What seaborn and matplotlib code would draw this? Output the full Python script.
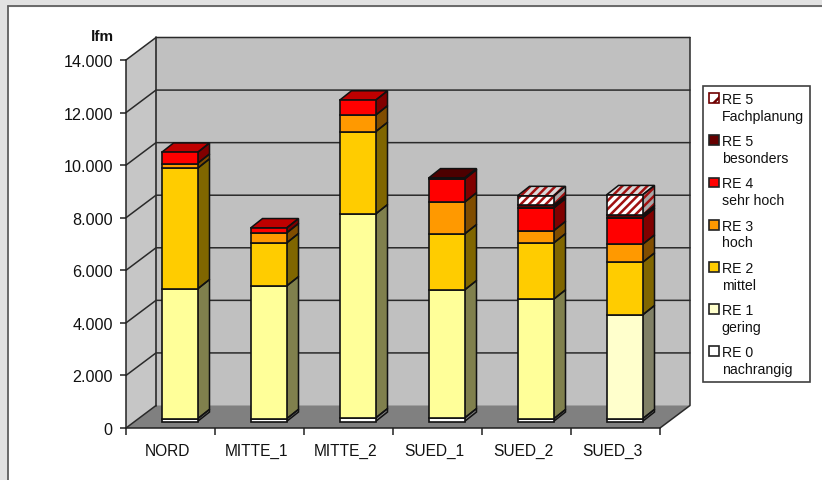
import numpy as np
import pandas as pd
import seaborn as sns
import matplotlib
matplotlib.use("Agg")
import matplotlib.pyplot as plt
from matplotlib.colors import to_rgb
from matplotlib.legend_handler import HandlerPatch
from matplotlib.patches import Patch, Rectangle
from matplotlib.transforms import Affine2D, ScaledTranslation

# Data (lfm per region and class)
regions = ["NORD", "MITTE_1", "MITTE_2", "SUED_1", "SUED_2", "SUED_3"]
re0 = [100, 100, 130, 130, 95, 100]
re1 = [4940, 5050, 7760, 4870, 4550, 3950]
re2 = [4590, 1640, 3130, 2130, 2140, 2000]
re3 = [185, 380, 630, 1210, 465, 685]
re4 = [420, 190, 570, 880, 865, 1010]
re5_bes = [0, 0, 0, 40, 115, 105]
re5_fach = [0, 0, 0, 0, 355, 770]

series_names = ["RE 0\nnachrangig", "RE 1\ngering", "RE 2\nmittel", "RE 3\nhoch",
                "RE 4\nsehr hoch", "RE 5\nbesonders", "RE 5\nFachplanung"]
series_values = [re0, re1, re2, re3, re4, re5_bes, re5_fach]
series_colors = ["#FFFFFF", "#FFFFCC", "#FFCC00", "#FF9900", "#FF0000", "#660000", "#FFFFFF"]
re1_point_colors = ["#FFFF99"] * 5 + ["#FFFFCC"]

y_ticks = [0, 2000, 4000, 6000, 8000, 10000, 12000, 14000]
y_labels = ["0", "2.000", "4.000", "6.000", "8.000", "10.000", "12.000", "14.000"]

# Pixel scales of the front plane
PX_X = 89.0
PX_Y = 368 / 14000
WALL_DX, WALL_DY = 30 / PX_X, 22.5 / PX_Y
BAR_DX, BAR_DY = 12 / PX_X, 9.5 / PX_Y
BAR_W = 36 / PX_X
HATCH_RED = "#A01010"
EDGE = "#111111"

sns.set_style("white")
plt.rcParams["font.family"] = ["Liberation Sans", "DejaVu Sans"]
plt.rcParams["hatch.linewidth"] = 1.8

fig = plt.figure(figsize=(8.22, 4.81), dpi=100)
ax = fig.add_axes([126 / 822, 1 - 429 / 481, 534 / 822, 368 / 481])
ax.patch.set_alpha(0)

# Excel window strips round the chart
fig.patches.append(Rectangle((0, 1 - 7 / 481), 1, 7 / 481, transform=fig.transFigure, color="#E2E2E2", zorder=-5))
fig.patches.append(Rectangle((0, 0), 7 / 822, 1, transform=fig.transFigure, color="#E2E2E2", zorder=-5))
fig.add_artist(plt.Line2D([7.5 / 822, 1], [1 - 6.5 / 481] * 2, color="#606060", lw=1.3))
fig.add_artist(plt.Line2D([7.5 / 822] * 2, [0, 1 - 6.5 / 481], color="#606060", lw=1.3))

# Walls and floor
x0, x1 = -0.5, 5.5
top = 14000
ax.fill([x0 + WALL_DX, x1 + WALL_DX, x1 + WALL_DX, x0 + WALL_DX],
        [WALL_DY, WALL_DY, top + WALL_DY, top + WALL_DY], color="#C0C0C0", zorder=0.5, clip_on=False, lw=0)
ax.fill([x0, x0 + WALL_DX, x0 + WALL_DX, x0], [0, WALL_DY, top + WALL_DY, top],
        color="#C6C6C6", zorder=0.5, clip_on=False, lw=0)
ax.fill([x0, x1, x1 + WALL_DX, x0 + WALL_DX], [0, 0, WALL_DY, WALL_DY],
        color="#808080", zorder=0.6, clip_on=False, lw=0)
for t in y_ticks[1:]:
    ax.plot([x0, x0 + WALL_DX, x1 + WALL_DX], [t, t + WALL_DY, t + WALL_DY],
            color="#2A2A2A", lw=1.1, zorder=0.7, clip_on=False)
ax.plot([x0, x0 + WALL_DX], [0, WALL_DY], color="#2A2A2A", lw=1.1, zorder=0.7, clip_on=False)
ax.plot([x0 + WALL_DX] * 2, [WALL_DY, top + WALL_DY], color="#2A2A2A", lw=1.2, zorder=0.7, clip_on=False)
ax.plot([x1, x1 + WALL_DX, x1 + WALL_DX], [0, WALL_DY, top + WALL_DY],
        color="#2A2A2A", lw=1.1, zorder=0.7, clip_on=False)

# Stacked front faces through seaborn
bottoms = np.zeros(len(regions))
cum_bottoms = []
for name, vals, col in zip(series_names, series_values, series_colors):
    df = pd.DataFrame({"region": regions, "lfm": vals})
    n_before = len(ax.patches)
    is_hatched = "Fachplanung" in name
    if is_hatched:
        sns.barplot(data=df, x="region", y="lfm", ax=ax, bottom=bottoms, width=BAR_W, color="white",
                    saturation=1, errorbar=None, hatch="////", edgecolor=HATCH_RED, linewidth=0, zorder=3)
    n_outline = len(ax.patches)
    sns.barplot(data=df, x="region", y="lfm", ax=ax, bottom=bottoms, width=BAR_W, color=col,
                saturation=1, errorbar=None, edgecolor=EDGE, linewidth=1.2, zorder=3)
    if is_hatched:
        for bar in ax.patches[n_outline:]:
            bar.set_facecolor("none")
    if name.startswith("RE 1"):
        for bar, c in zip(ax.patches[n_before:], re1_point_colors):
            bar.set_facecolor(c)
    cum_bottoms.append(bottoms.copy())
    bottoms = bottoms + np.array(vals, dtype=float)

# The bars stand part way into the floor, so shift everything of a bar in pixels
shift = ax.transData + Affine2D().translate(9, 6.5)
for p in ax.patches:
    if isinstance(p, Rectangle):
        if p.get_height() == 0:
            p.set_visible(False)
        p.set_transform(shift)
        p.set_clip_on(False)


def shade(col, f):
    return tuple(c * f for c in to_rgb(col))


# Side and top faces, worked out from the values
for i in range(len(regions)):
    xr = i + BAR_W / 2
    xl = i - BAR_W / 2
    last = None
    for s, (vals, col) in enumerate(zip(series_values, series_colors)):
        if vals[i] == 0:
            continue
        b = cum_bottoms[s][i]
        t = b + vals[i]
        c = re1_point_colors[i] if s == 1 else col
        hatched = s == 6
        side = "#A8A8A8" if hatched else shade(c, 0.5)
        ax.fill([xr, xr + BAR_DX, xr + BAR_DX, xr], [b, b + BAR_DY, t + BAR_DY, t], facecolor=side,
                edgecolor=HATCH_RED if hatched else "none", hatch="////" if hatched else None,
                lw=0, zorder=2.5, clip_on=False, transform=shift)
        ax.fill([xr, xr + BAR_DX, xr + BAR_DX, xr], [b, b + BAR_DY, t + BAR_DY, t], facecolor="none",
                edgecolor=EDGE, lw=1.1, zorder=2.6, clip_on=False, transform=shift)
        last = (t, c, hatched)
    t, c, hatched = last
    roof = "#D8D8D8" if hatched else shade(c, 0.75)
    ax.fill([xl, xr, xr + BAR_DX, xl + BAR_DX], [t, t, t + BAR_DY, t + BAR_DY], facecolor=roof,
            edgecolor=HATCH_RED if hatched else "none", hatch="////" if hatched else None,
            lw=0, zorder=2.5, clip_on=False, transform=shift)
    ax.fill([xl, xr, xr + BAR_DX, xl + BAR_DX], [t, t, t + BAR_DY, t + BAR_DY], facecolor="none",
            edgecolor=EDGE, lw=1.1, zorder=2.6, clip_on=False, transform=shift)

# Axes
ax.set_xlim(x0, x1)
ax.set_ylim(0, top)
ax.set_yticks(y_ticks)
ax.set_yticklabels(y_labels, fontsize=11.6, color="#111111")
ax.set_xticks(np.arange(len(regions)))
ax.set_xticklabels(regions, fontsize=11.2, color="#111111", va="baseline")
ax.set_xticks(np.arange(len(regions) + 1) - 0.5, minor=True)
ax.tick_params(axis="x", which="major", length=0, pad=19.4)
ax.tick_params(axis="x", which="minor", length=5, width=1.1, color="#222222", bottom=True)
ax.tick_params(axis="y", length=4.5, width=1.1, color="#222222", pad=5, left=True)
offset = ScaledTranslation(-3 / 100, 0, fig.dpi_scale_trans)
for lab in ax.get_xticklabels():
    lab.set_transform(lab.get_transform() + offset)
ax.set_xlabel("")
ax.set_ylabel("lfm", rotation=0, fontsize=11, fontweight="bold", color="#111111")
ax.yaxis.set_label_coords(-24 / 534, 1 + 17 / 368)
for side_name in ["top", "right"]:
    ax.spines[side_name].set_visible(False)
for side_name in ["left", "bottom"]:
    ax.spines[side_name].set_color("#222222")
    ax.spines[side_name].set_linewidth(1.1)


# Legend, key square next to the first line of each entry
def key_patch(legend, orig_handle, xdescent, ydescent, width, height, fontsize):
    return Rectangle((-xdescent, -ydescent + 7), width, height)


handles = []
for name, col in zip(series_names[::-1], series_colors[::-1]):
    if "Fachplanung" in name:
        handles.append(Patch(facecolor=col, edgecolor="#700000", hatch="//", lw=1.2, label=name))
    else:
        handles.append(Patch(facecolor=col, edgecolor="#222222", lw=1.2, label=name))
leg = ax.legend(handles=handles, loc="upper left", bbox_to_anchor=(702.5 / 822, 1 - 86.5 / 481),
                bbox_transform=fig.transFigure, frameon=True, fancybox=False, framealpha=1, edgecolor="#404040",
                fontsize=10.2, handlelength=0.7, handleheight=0.7, handletextpad=0.2, borderpad=0.45,
                labelspacing=0.81, borderaxespad=0,
                handler_map={Patch: HandlerPatch(patch_func=key_patch)})
leg.get_frame().set_linewidth(1.2)
leg.set_zorder(10)
for t in leg.get_texts():
    t.set_color("#111111")
    t.set_linespacing(1.25)

fig.savefig("out.png", dpi=100)
